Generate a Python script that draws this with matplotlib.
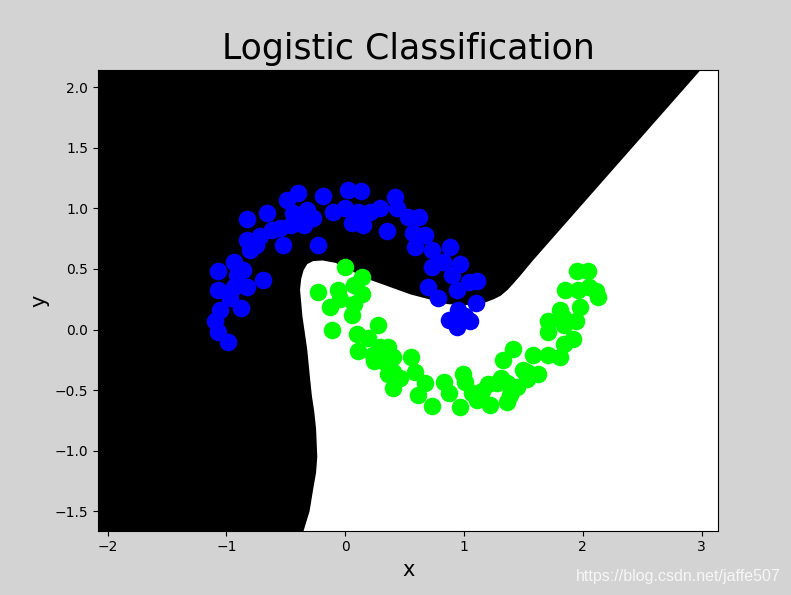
import numpy as np
import matplotlib
matplotlib.use('Agg')
import matplotlib.pyplot as plt

# class 0 points (blue)
blue_x = [-0.83, -0.66, -0.49, -0.83, -0.72, -0.62, -0.52, -0.80, -0.94, -0.86,
          -1.07, -0.69, -1.07, -0.83, -0.94, -0.97, -0.88, -1.05, -1.10, -1.07,
          -0.99, -0.91, -0.55, -0.75, -0.40, -0.19, 0.02, 0.13, -0.44, -0.32,
          -0.27, -0.10, 0.00, 0.06, 0.15, 0.21, 0.29, 0.42, 0.35, -0.23,
          -0.35, -0.46, 0.53, 0.11, 0.44, 0.62, 0.57, 0.67, 0.59, 0.73,
          0.88, 0.73, 0.82, 0.97, 0.90, 1.11, 0.70, 0.94, 0.78, 1.10,
          0.95, 0.87, 0.94, 1.05, 1.01, 1.04]
blue_y = [0.91, 0.96, 1.07, 0.74, 0.77, 0.82, 0.70, 0.66, 0.56, 0.49,
          0.48, 0.41, 0.33, 0.35, 0.35, 0.26, 0.18, 0.16, 0.07, -0.02,
          -0.10, 0.45, 0.84, 0.70, 1.13, 1.10, 1.15, 1.14, 0.96, 0.99,
          0.92, 0.97, 1.00, 0.88, 0.86, 0.97, 1.00, 1.09, 0.81, 0.70,
          0.86, 0.86, 0.93, 0.97, 1.00, 0.93, 0.80, 0.78, 0.68, 0.66,
          0.68, 0.52, 0.56, 0.54, 0.45, 0.40, 0.35, 0.33, 0.26, 0.22,
          0.16, 0.08, 0.02, 0.07, 0.11, 0.39]

# class 1 points (green)
green_x = [0.00, 0.14, -0.23, -0.06, 0.14, 0.07, -0.13, -0.04, 0.07, 0.06,
           -0.11, 0.28, 0.10, 0.19, 0.11, 0.29, 0.36, 0.32, 0.23, 0.40,
           0.55, 0.40, 0.40, 0.59, 0.61, 0.24, 0.46, 0.36, 0.67, 0.73,
           0.83, 0.87, 0.99, 0.97, 1.07, 1.15, 1.20, 1.28, 1.22, 1.31,
           1.36, 1.33, 1.41, 1.45, 1.53, 1.11, 1.01, 1.95, 2.04, 1.85,
           2.05, 2.13, 1.98, 1.81, 1.71, 1.71, 1.94, 1.84, 1.92, 1.84,
           1.58, 1.71, 1.81, 1.50, 1.62, 1.36, 1.53, 1.39, 1.96, 2.11,
           1.83]
green_y = [0.52, 0.43, 0.31, 0.33, 0.29, 0.37, 0.19, 0.25, 0.21, 0.12,
           0.00, 0.04, -0.04, -0.07, -0.18, -0.14, -0.14, -0.26, -0.21, -0.23,
           -0.23, -0.48, -0.35, -0.35, -0.54, -0.26, -0.40, -0.37, -0.44, -0.63,
           -0.43, -0.52, -0.37, -0.64, -0.52, -0.51, -0.45, -0.44, -0.62, -0.40,
           -0.60, -0.25, -0.16, -0.47, -0.35, -0.58, -0.43, 0.48, 0.48, 0.33,
           0.35, 0.27, 0.19, 0.16, 0.07, -0.02, 0.07, 0.04, -0.08, -0.12,
           -0.21, -0.21, -0.23, -0.33, -0.37, -0.44, -0.41, -0.54, 0.33, 0.32,
           0.10]

# decision boundary (black region lies above/left of it)
bound_x = [-0.35, -0.30, -0.27, -0.245, -0.235, -0.245, -0.26, -0.28, -0.295, -0.32,
           -0.36, -0.38, -0.37, -0.35, -0.32, -0.27, -0.19, -0.08, 0.04, 0.21,
           0.55, 0.86, 1.00, 1.14, 1.25, 1.31, 1.37, 1.47, 1.58, 2.99,
           3.05]
bound_y = [-1.66, -1.50, -1.32, -1.18, -1.05, -0.82, -0.68, -0.55, -0.41, -0.16,
           0.11, 0.33, 0.42, 0.49, 0.54, 0.565, 0.57, 0.55, 0.49, 0.41,
           0.29, 0.21, 0.20, 0.21, 0.25, 0.28, 0.33, 0.44, 0.57, 2.14,
           2.21]

x_lim = (-2.08, 3.14)
y_lim = (-1.66, 2.14)

fig = plt.figure(figsize=(7.91, 5.95), dpi=100, facecolor='lightgray')
ax = fig.add_subplot(111)
fig.subplots_adjust(left=0.124, right=0.908, bottom=0.108, top=0.882)
ax.set_facecolor('white')

# black class-0 region
poly_x = [x_lim[0] - 0.5, bound_x[0]] + bound_x + [x_lim[0] - 0.5]
poly_y = [y_lim[0] - 0.5, y_lim[0] - 0.5] + bound_y + [y_lim[1] + 0.5]
ax.fill(poly_x, poly_y, color='black', lw=0)

ax.scatter(blue_x, blue_y, s=160, c='#0000ff', lw=0, zorder=3)
ax.scatter(green_x, green_y, s=160, c='#00ff00', lw=0, zorder=3)

ax.set_xlim(*x_lim)
ax.set_ylim(*y_lim)
ax.set_title('Logistic Classification', fontsize=25, pad=8)
ax.set_xlabel('x', fontsize=15)
ax.set_ylabel('y', fontsize=15)

fig.text(0.987, 0.018, 'https://blog.csdn.net/jaffe507', color='white',
         family='Liberation Sans', fontsize=11.5, ha='right', va='bottom', alpha=0.8)

plt.savefig('out.png', dpi=100, facecolor=fig.get_facecolor())
